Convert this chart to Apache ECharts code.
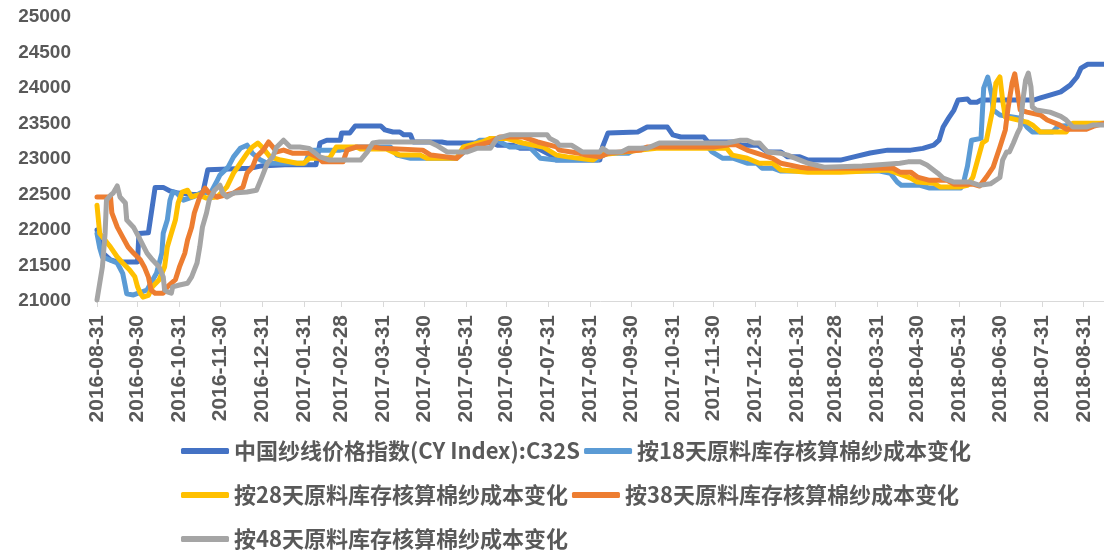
<!DOCTYPE html>
<html>
<head>
<meta charset="utf-8">
<script src="https://cdn.jsdelivr.net/npm/echarts@6/dist/echarts.min.js"></script>
<style>html,body{margin:0;padding:0;background:#fff}#c{width:1104px;height:550px}</style>
</head>
<body>
<div id="c"></div>
<script>
// ---- data ----
const seriesNames = ['中国纱线价格指数(CY Index):C32S','按18天原料库存核算棉纱成本变化','按28天原料库存核算棉纱成本变化','按38天原料库存核算棉纱成本变化','按48天原料库存核算棉纱成本变化'];
const startDate = '2016-08-31';
const endDate = '2018-09-15';
const yTicks = [21000, 25000, 500];

const cyIndex = [['2016-08-31',22000],['2016-09-04',21680],['2016-09-10',21580],['2016-09-15',21550],['2016-09-30',21550],['2016-10-01',21950],['2016-10-08',21960],['2016-10-13',22600],['2016-10-19',22600],['2016-10-24',22550],['2016-10-30',22520],['2016-11-10',22500],['2016-11-17',22500],['2016-11-21',22850],['2016-12-22',22870],['2016-12-30',22900],['2017-01-17',22920],['2017-02-09',22920],['2017-02-12',23225],['2017-02-17',23265],['2017-02-27',23265],['2017-02-28',23365],['2017-03-06',23365],['2017-03-10',23465],['2017-03-29',23465],['2017-04-01',23410],['2017-04-07',23380],['2017-04-12',23380],['2017-04-15',23340],['2017-04-20',23340],['2017-04-22',23240],['2017-05-13',23240],['2017-05-17',23225],['2017-06-20',23225],['2017-06-23',23195],['2017-07-05',23195],['2017-07-10',23150],['2017-07-23',23150],['2017-08-04',23030],['2017-08-06',22985],['2017-09-07',22985],['2017-09-09',23170],['2017-09-13',23365],['2017-10-05',23380],['2017-10-12',23450],['2017-10-27',23450],['2017-10-31',23340],['2017-11-06',23310],['2017-11-23',23310],['2017-11-26',23240],['2017-12-18',23240],['2017-12-20',23195],['2018-01-02',23195],['2018-01-09',23100],['2018-01-19',23100],['2018-01-24',23030],['2018-02-02',23030],['2018-02-08',22985],['2018-03-04',22985],['2018-03-14',23030],['2018-03-26',23085],['2018-04-08',23125],['2018-04-25',23125],['2018-05-04',23150],['2018-05-12',23195],['2018-05-16',23265],['2018-05-19',23450],['2018-05-23',23575],['2018-05-27',23690],['2018-05-30',23830],['2018-06-06',23845],['2018-06-08',23800],['2018-06-13',23800],['2018-06-16',23830],['2018-07-25',23830],['2018-07-30',23860],['2018-08-06',23900],['2018-08-14',23945],['2018-08-21',24040],['2018-08-26',24155],['2018-08-29',24280],['2018-09-03',24335],['2018-09-15',24335]];

const cost18 = [['2016-08-31',21950],['2016-09-02',21750],['2016-09-04',21620],['2016-09-15',21535],['2016-09-19',21390],['2016-09-21',21200],['2016-09-22',21100],['2016-09-27',21085],['2016-10-07',21155],['2016-10-14',21390],['2016-10-18',21675],['2016-10-19',21955],['2016-10-22',22140],['2016-10-24',22420],['2016-10-26',22535],['2016-10-29',22520],['2016-11-03',22420],['2016-11-10',22465],['2016-11-17',22535],['2016-11-23',22520],['2016-11-28',22700],['2016-11-30',22775],['2016-12-06',22885],['2016-12-10',23030],['2016-12-15',23150],['2016-12-20',23195],['2016-12-24',23080],['2016-12-30',22985],['2017-01-04',22940],['2017-02-01',22940],['2017-02-05',23125],['2017-02-27',23125],['2017-03-12',23170],['2017-04-05',23170],['2017-04-10',23055],['2017-04-20',23010],['2017-05-24',23010],['2017-06-03',23170],['2017-06-10',23265],['2017-06-23',23265],['2017-07-02',23170],['2017-07-17',23170],['2017-07-25',23010],['2017-08-06',22985],['2017-09-05',22985],['2017-09-07',23030],['2017-09-13',23080],['2017-09-28',23080],['2017-10-03',23140],['2017-10-19',23170],['2017-11-26',23170],['2017-11-29',23100],['2017-12-07',23010],['2017-12-15',23010],['2017-12-25',22940],['2018-01-01',22940],['2018-01-05',22870],['2018-01-13',22870],['2018-01-19',22830],['2018-04-02',22830],['2018-04-10',22800],['2018-04-15',22675],['2018-04-18',22630],['2018-05-02',22630],['2018-05-09',22590],['2018-06-01',22590],['2018-06-03',22660],['2018-06-06',22900],['2018-06-09',23265],['2018-06-16',23290],['2018-06-18',24000],['2018-06-21',24155],['2018-06-24',23900],['2018-06-25',23690],['2018-06-30',23620],['2018-07-15',23575],['2018-07-20',23450],['2018-07-24',23380],['2018-08-08',23380],['2018-08-12',23460],['2018-09-15',23505]];

const cost28 = [['2016-08-31',22350],['2016-09-02',21950],['2016-09-10',21760],['2016-09-15',21620],['2016-09-19',21535],['2016-09-24',21440],['2016-09-28',21340],['2016-09-30',21200],['2016-10-02',21110],['2016-10-04',21055],['2016-10-08',21080],['2016-10-11',21200],['2016-10-16',21300],['2016-10-20',21480],['2016-10-22',21760],['2016-10-25',21955],['2016-10-28',22140],['2016-10-30',22380],['2016-11-02',22535],['2016-11-06',22560],['2016-11-09',22465],['2016-11-14',22495],['2016-11-20',22450],['2016-11-28',22465],['2016-12-05',22605],['2016-12-10',22800],['2016-12-15',22940],['2016-12-20',23080],['2016-12-24',23170],['2016-12-28',23225],['2017-01-01',23150],['2017-01-06',23030],['2017-01-14',22985],['2017-01-26',22940],['2017-01-31',22940],['2017-02-04',23010],['2017-02-19',23010],['2017-02-24',23170],['2017-03-11',23170],['2017-03-14',23140],['2017-04-02',23140],['2017-04-12',23055],['2017-04-27',23055],['2017-05-02',23010],['2017-05-24',23010],['2017-05-29',23170],['2017-06-12',23240],['2017-06-18',23290],['2017-06-30',23290],['2017-07-12',23225],['2017-07-27',23170],['2017-08-06',23055],['2017-08-14',23030],['2017-09-02',22985],['2017-09-07',23055],['2017-10-07',23125],['2017-10-19',23150],['2017-12-10',23150],['2017-12-14',23055],['2017-12-25',23010],['2018-01-03',22940],['2018-01-13',22940],['2018-01-19',22845],['2018-02-08',22815],['2018-03-04',22815],['2018-04-08',22845],['2018-04-15',22800],['2018-04-25',22730],['2018-04-30',22675],['2018-05-12',22660],['2018-05-17',22605],['2018-05-31',22605],['2018-06-06',22630],['2018-06-10',22745],['2018-06-17',23225],['2018-06-20',23265],['2018-06-25',23730],['2018-06-27',24070],['2018-06-30',24155],['2018-07-02',23830],['2018-07-04',23590],['2018-07-05',23575],['2018-07-20',23520],['2018-07-24',23480],['2018-07-30',23380],['2018-08-18',23380],['2018-08-23',23505],['2018-09-15',23505]];

const cost38 = [['2016-08-31',22465],['2016-09-10',22465],['2016-09-11',22240],['2016-09-15',22040],['2016-09-19',21900],['2016-09-23',21760],['2016-09-27',21675],['2016-10-02',21580],['2016-10-05',21480],['2016-10-08',21340],['2016-10-10',21155],['2016-10-13',21110],['2016-10-19',21110],['2016-10-22',21200],['2016-10-28',21300],['2016-10-31',21480],['2016-11-04',21675],['2016-11-06',21860],['2016-11-09',22040],['2016-11-11',22240],['2016-11-15',22465],['2016-11-19',22590],['2016-11-22',22520],['2016-11-28',22465],['2016-12-10',22520],['2016-12-17',22605],['2016-12-20',22800],['2016-12-24',22885],['2016-12-27',23030],['2017-01-01',23125],['2017-01-05',23240],['2017-01-08',23170],['2017-01-11',23100],['2017-01-16',23125],['2017-01-23',23080],['2017-02-04',23080],['2017-02-10',23030],['2017-02-14',22960],['2017-03-01',22960],['2017-03-04',23125],['2017-03-11',23170],['2017-03-23',23170],['2017-03-30',23150],['2017-04-29',23125],['2017-05-05',23055],['2017-05-24',23010],['2017-06-01',23150],['2017-06-18',23240],['2017-06-25',23310],['2017-07-12',23310],['2017-07-23',23240],['2017-08-06',23170],['2017-08-08',23125],['2017-08-23',23080],['2017-08-28',23055],['2017-09-07',23030],['2017-09-13',23080],['2017-10-07',23125],['2017-10-12',23170],['2017-11-30',23170],['2017-12-12',23200],['2017-12-17',23200],['2017-12-25',23125],['2018-01-13',23010],['2018-01-19',22940],['2018-02-02',22885],['2018-02-08',22870],['2018-04-12',22870],['2018-04-17',22815],['2018-04-25',22815],['2018-04-30',22745],['2018-05-09',22700],['2018-05-22',22700],['2018-05-27',22645],['2018-06-10',22645],['2018-06-15',22620],['2018-06-20',22745],['2018-06-25',22885],['2018-06-30',23170],['2018-07-04',23410],['2018-07-06',23715],['2018-07-09',24070],['2018-07-11',24200],['2018-07-13',23950],['2018-07-15',23690],['2018-07-20',23660],['2018-07-30',23620],['2018-08-04',23550],['2018-08-13',23480],['2018-08-18',23420],['2018-09-02',23420],['2018-09-07',23460],['2018-09-15',23500]];

const cost48 = [['2016-08-31',21015],['2016-09-04',21480],['2016-09-06',21955],['2016-09-07',22420],['2016-09-10',22490],['2016-09-12',22520],['2016-09-15',22620],['2016-09-17',22465],['2016-09-21',22380],['2016-09-22',22140],['2016-09-27',22040],['2016-10-02',21860],['2016-10-07',21675],['2016-10-11',21580],['2016-10-16',21480],['2016-10-19',21340],['2016-10-20',21155],['2016-10-22',21130],['2016-10-25',21110],['2016-10-26',21200],['2016-10-31',21225],['2016-11-06',21250],['2016-11-09',21340],['2016-11-13',21535],['2016-11-15',21760],['2016-11-17',22040],['2016-11-20',22240],['2016-11-22',22420],['2016-11-26',22560],['2016-11-30',22630],['2016-12-02',22520],['2016-12-05',22465],['2016-12-10',22520],['2016-12-20',22535],['2016-12-27',22560],['2016-12-31',22745],['2017-01-04',22940],['2017-01-08',23030],['2017-01-11',23170],['2017-01-16',23265],['2017-01-21',23170],['2017-01-28',23170],['2017-02-04',23150],['2017-02-12',23030],['2017-02-19',22985],['2017-03-14',22985],['2017-03-19',23100],['2017-03-23',23225],['2017-03-28',23240],['2017-05-04',23240],['2017-05-09',23195],['2017-05-17',23100],['2017-06-01',23100],['2017-06-08',23150],['2017-06-18',23150],['2017-06-23',23290],['2017-07-02',23340],['2017-07-30',23340],['2017-08-01',23290],['2017-08-06',23240],['2017-08-08',23195],['2017-08-17',23195],['2017-08-25',23100],['2017-09-07',23100],['2017-09-09',23150],['2017-09-13',23100],['2017-09-23',23100],['2017-09-28',23150],['2017-10-12',23150],['2017-10-21',23225],['2017-12-10',23225],['2017-12-20',23265],['2017-12-25',23265],['2017-12-30',23225],['2018-01-03',23225],['2018-01-09',23100],['2018-01-19',23080],['2018-01-24',23055],['2018-02-02',22985],['2018-02-08',22940],['2018-02-20',22885],['2018-03-20',22900],['2018-04-17',22940],['2018-04-23',22960],['2018-05-02',22960],['2018-05-07',22915],['2018-05-15',22800],['2018-05-19',22730],['2018-05-27',22675],['2018-06-08',22675],['2018-06-15',22630],['2018-06-23',22650],['2018-06-30',22740],['2018-07-02',22985],['2018-07-05',23100],['2018-07-07',23100],['2018-07-10',23225],['2018-07-13',23365],['2018-07-15',23440],['2018-07-17',23830],['2018-07-19',24110],['2018-07-21',24210],['2018-07-23',24015],['2018-07-24',23730],['2018-07-27',23690],['2018-08-06',23660],['2018-08-14',23600],['2018-08-18',23550],['2018-08-23',23450],['2018-09-02',23450],['2018-09-07',23480],['2018-09-15',23480]];

const colors = ['#4472C4','#5B9BD5','#FFC000','#ED7D31','#A5A5A5'];

// ---- build ----
const categories = [];
(function(){
  const s = Date.parse(startDate + 'T00:00:00Z'), e = Date.parse(endDate + 'T00:00:00Z');
  for (let t = s; t <= e; t += 86400000) categories.push(new Date(t).toISOString().slice(0,10));
})();
function isMonthEnd(idx, val) {
  const d = new Date(val + 'T00:00:00Z');
  d.setUTCDate(d.getUTCDate() + 1);
  return d.getUTCDate() === 1;
}
const allData = [cyIndex, cost18, cost28, cost38, cost48];
const textColor = '#595959';

const chart = echarts.init(document.getElementById('c'), null, {renderer: 'canvas'});
chart.setOption({
  animation: false,
  color: colors,
  grid: {left: 97, right: 0, top: 17, bottom: 249, containLabel: false},
  xAxis: {
    type: 'category',
    data: categories,
    boundaryGap: false,
    axisLine: {show: true, lineStyle: {color: '#D9D9D9', width: 1}},
    axisTick: {show: true, interval: isMonthEnd, length: 6, lineStyle: {color: '#D9D9D9'}},
    axisLabel: {interval: isMonthEnd, rotate: 90, margin: 14, color: textColor,
      fontFamily: 'Liberation Sans', fontWeight: 'bold', fontSize: 21},
    splitLine: {show: false}
  },
  yAxis: {
    type: 'value',
    min: yTicks[0], max: yTicks[1], interval: yTicks[2],
    axisLine: {show: false}, axisTick: {show: false}, splitLine: {show: false},
    axisLabel: {color: textColor, fontFamily: 'Liberation Sans', fontWeight: 'bold', fontSize: 19, margin: 26,
      formatter: v => String(v)}
  },
  legend: {
    left: 176, top: 426, width: 800, orient: 'horizontal',
    itemWidth: 48, itemHeight: 6, itemGap: 4, icon: 'roundRect',
    textStyle: {color: textColor, fontFamily: 'Noto Sans CJK SC', fontWeight: 'bold', fontSize: 22, lineHeight: 40},
    data: seriesNames
  },
  series: allData.map((d, i) => ({
    name: seriesNames[i], type: 'line', data: d, showSymbol: false, symbol: 'none',
    lineStyle: {width: 5, color: colors[i], join: 'round', cap: 'round'},
    itemStyle: {color: colors[i]},
    emphasis: {disabled: true}
  }))
});
</script>
</body>
</html>
